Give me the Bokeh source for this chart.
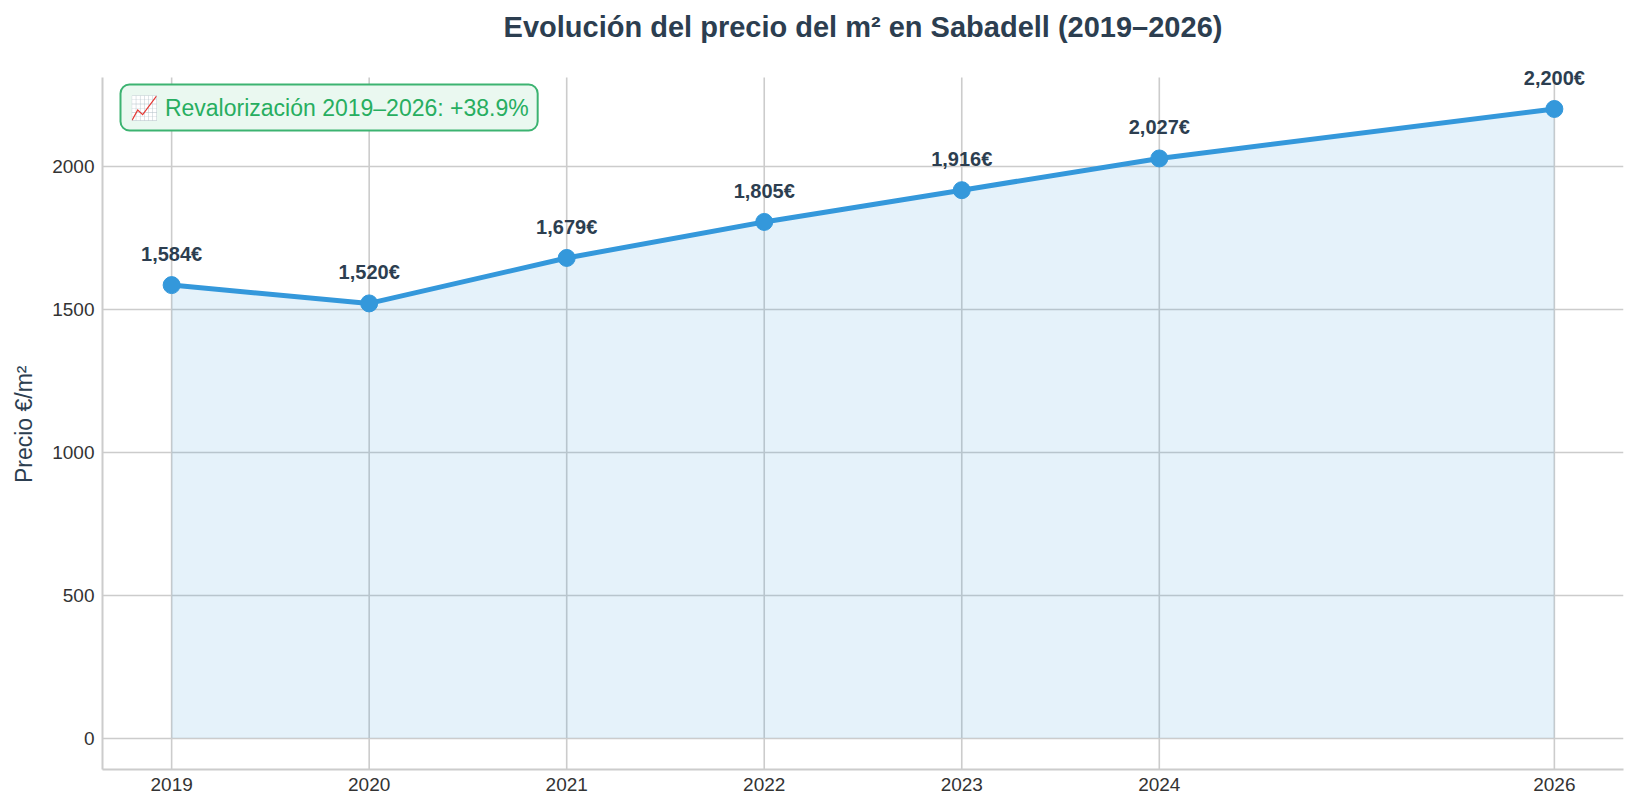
from bokeh.plotting import figure
from bokeh.models import ColumnDataSource, FixedTicker, Range1d, Label
from bokeh.core.properties import value
from bokeh.embed import file_html
from bokeh.resources import INLINE

years = [2019, 2020, 2021, 2022, 2023, 2024, 2026]
prices = [1584, 1520, 1679, 1805, 1916, 2027, 2200]
price_labels = [f"{v:,}€" for v in prices]
y_ticks = [0, 500, 1000, 1500, 2000]
title_text = "Evolución del precio del m² en Sabadell (2019–2026)"
y_label = "Precio €/m²"
growth = (prices[-1] / prices[0] - 1) * 100
note_text = f"\U0001F4C8 Revalorización {years[0]}–{years[-1]}: +{growth:.1f}%"

X_MIN, X_MAX = 2018.65, 2026.35
Y_MIN, Y_MAX = -110, 2310
HEADROOM = 84  # extra space above the axes so the top value label is not clipped

FONT = "Liberation Sans"
BLUE = "#3498db"
DARK = "#2c3e50"
GRID = "#cccccc"
FW, FH = 1521, 716

src = ColumnDataSource(dict(x=years, y=prices, lab=price_labels, zero=[0] * len(years),
                            gy0=[Y_MIN] * len(years), gy1=[Y_MAX] * len(years)))

p = figure(frame_width=FW, frame_height=FH,
           min_border_left=102, min_border_top=53, min_border_right=5, min_border_bottom=33,
           x_range=Range1d(X_MIN, X_MAX), y_range=Range1d(Y_MIN, Y_MAX + HEADROOM),
           output_backend="svg", toolbar_location=None)

p.title.text = title_text
p.title.align = "center"
p.title.vertical_align = "top"
p.title.standoff = 18
p.title.text_font = FONT
p.title.text_font_size = "29px"
p.title.text_font_style = "bold"
p.title.text_color = DARK

p.outline_line_color = None
p.background_fill_color = "white"
p.border_fill_color = "white"

p.xaxis.ticker = FixedTicker(ticks=years)
p.yaxis.ticker = FixedTicker(ticks=y_ticks)
p.yaxis.bounds = (Y_MIN, Y_MAX)
for ax in (p.xaxis[0], p.yaxis[0]):
    ax.axis_line_color = GRID
    ax.axis_line_width = 2
    ax.major_tick_line_color = None
    ax.minor_tick_line_color = None
    ax.major_tick_out = 0
    ax.major_tick_in = 0
    ax.major_label_text_font = FONT
    ax.major_label_text_font_size = "19px"
    ax.major_label_text_color = "#333333"
    ax.major_label_standoff = 8

# trailing no-break spaces re-centre the label on the axes' extent (the frame has headroom)
p.yaxis.axis_label = y_label + "\u00a0" * 4
p.yaxis.axis_label_text_font = FONT
p.yaxis.axis_label_text_font_size = "23px"
p.yaxis.axis_label_text_font_style = "normal"
p.yaxis.axis_label_text_color = DARK
p.yaxis.axis_label_standoff = 12

p.xgrid.grid_line_color = None
p.ygrid.grid_line_color = GRID
p.ygrid.grid_line_width = 1.6
# vertical grid lines, limited to the axes' extent
p.segment(x0="x", y0="gy0", x1="x", y1="gy1", source=src, line_color=GRID,
          line_width=1.6, level="underlay")

p.varea(x="x", y1="zero", y2="y", source=src, fill_color=BLUE, fill_alpha=0.13)
p.line(x="x", y="y", source=src, line_color=BLUE, line_width=5)
p.scatter(x="x", y="y", source=src, size=17, fill_color=BLUE, line_color=BLUE)
p.text(x="x", y="y", text="lab", source=src, text_align="center", text_baseline="alphabetic",
       y_offset=-31, text_font=value(FONT), text_font_size="20px", text_font_style="bold",
       text_color=DARK)

note = Label(x=18, y=685, x_units="screen", y_units="screen", text=note_text,
             anchor="top_left", text_font=FONT, text_font_size="23px", text_color="#27ae60",
             background_fill_color="#eaf8f0", background_fill_alpha=1.0,
             border_line_color="#3cb371", border_line_width=2, border_radius=9,
             padding=(9, 10))
p.add_layout(note)

open("out.html", "w").write(file_html(p, INLINE))
